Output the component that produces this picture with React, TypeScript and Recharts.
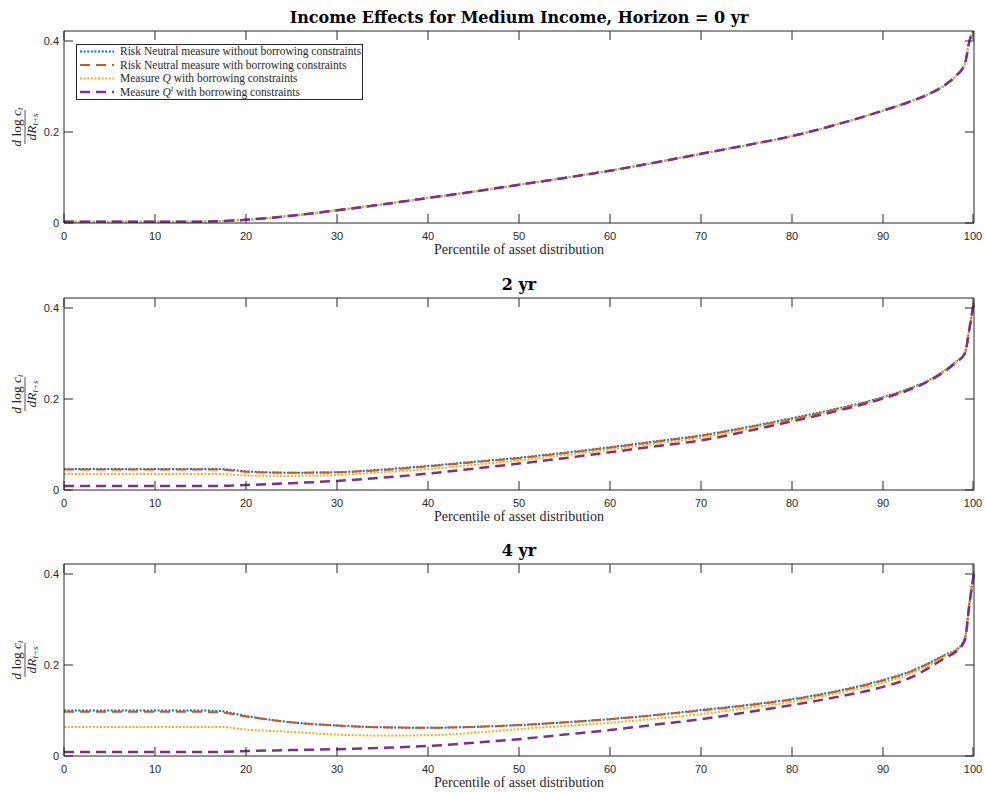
import React from "react";
import { LineChart, Line, XAxis, YAxis, Legend } from "recharts";

// percentile grid shared by every panel
const pct = [0, 5, 10, 15, 17, 20, 25, 30, 35, 40, 45, 50, 55, 60, 65, 70, 75, 80, 85, 90, 93, 95, 97, 98, 99, 99.5, 100];

// horizon 0 yr: the four measures coincide
const h0 = [0.003, 0.003, 0.003, 0.003, 0.004, 0.007, 0.016, 0.028, 0.041, 0.055, 0.069, 0.084, 0.099, 0.115, 0.133, 0.152, 0.171, 0.191, 0.217, 0.247, 0.267, 0.283, 0.306, 0.323, 0.35, 0.4, 0.425];

// horizon 2 yr
const h2Free = [0.046, 0.046, 0.046, 0.046, 0.046, 0.041, 0.038, 0.039, 0.045, 0.053, 0.062, 0.071, 0.082, 0.094, 0.107, 0.12, 0.138, 0.158, 0.179, 0.204, 0.224, 0.241, 0.266, 0.282, 0.302, 0.355, 0.415];
const h2Constr = [0.045, 0.045, 0.045, 0.045, 0.045, 0.04, 0.038, 0.039, 0.044, 0.052, 0.061, 0.07, 0.081, 0.093, 0.106, 0.119, 0.137, 0.156, 0.178, 0.203, 0.223, 0.24, 0.265, 0.281, 0.301, 0.355, 0.415];
const h2Q = [0.035, 0.035, 0.035, 0.035, 0.035, 0.032, 0.031, 0.033, 0.039, 0.046, 0.055, 0.065, 0.077, 0.089, 0.102, 0.115, 0.134, 0.154, 0.176, 0.202, 0.222, 0.24, 0.265, 0.281, 0.301, 0.355, 0.415];
const h2QI = [0.009, 0.009, 0.009, 0.009, 0.009, 0.011, 0.015, 0.02, 0.027, 0.036, 0.047, 0.058, 0.07, 0.083, 0.096, 0.109, 0.129, 0.151, 0.174, 0.201, 0.221, 0.239, 0.264, 0.28, 0.3, 0.355, 0.415];

// horizon 4 yr
const h4Free = [0.1, 0.1, 0.1, 0.1, 0.099, 0.088, 0.074, 0.067, 0.063, 0.062, 0.064, 0.068, 0.074, 0.081, 0.09, 0.101, 0.112, 0.125, 0.143, 0.167, 0.186, 0.204, 0.224, 0.233, 0.259, 0.336, 0.403];
const h4Constr = [0.097, 0.097, 0.097, 0.097, 0.096, 0.087, 0.074, 0.067, 0.063, 0.062, 0.064, 0.068, 0.074, 0.081, 0.09, 0.1, 0.111, 0.124, 0.142, 0.166, 0.185, 0.203, 0.223, 0.232, 0.258, 0.336, 0.403];
const h4Q = [0.064, 0.064, 0.064, 0.064, 0.064, 0.058, 0.053, 0.047, 0.045, 0.0455, 0.051, 0.059, 0.066, 0.073, 0.082, 0.092, 0.105, 0.119, 0.138, 0.161, 0.181, 0.199, 0.221, 0.231, 0.257, 0.335, 0.403];
const h4QI = [0.009, 0.009, 0.009, 0.009, 0.009, 0.011, 0.013, 0.015, 0.018, 0.022, 0.029, 0.037, 0.047, 0.057, 0.069, 0.081, 0.096, 0.112, 0.13, 0.152, 0.172, 0.193, 0.218, 0.229, 0.255, 0.334, 0.403];

const xTicks = [0, 10, 20, 30, 40, 50, 60, 70, 80, 90, 100];
const yTicks = [0, 0.2, 0.4];
const Y_MAX = 0.422;

const AXIS = "#262626";
const BLUE = "#0072BD";
const ORANGE = "#D95319";
const YELLOW = "#EDB120";
const PURPLE = "#7E2F8E";
const SERIF = "'Liberation Serif', 'Times New Roman', serif";
const SANS = "'Liberation Sans', Arial, sans-serif";
const DOT = "2 1.6";
const DASH = "10 6";

function buildRows(a: number[], b: number[], c: number[], d: number[]) {
    return pct.map((x, i) => ({ x, free: a[i], constr: b[i], q: c[i], qI: d[i] }));
}

const panels = [
    { title: "Income Effects for Medium Income, Horizon = 0 yr", rows: buildRows(h0, h0, h0, h0), legend: true },
    { title: "2 yr", rows: buildRows(h2Free, h2Constr, h2Q, h2QI), legend: false },
    { title: "4 yr", rows: buildRows(h4Free, h4Constr, h4Q, h4QI), legend: false },
];

const BottomTick = (props: any) => {
    const { x, y, payload } = props;
    return (
        <g>
            <line x1={x} x2={x} y1={y} y2={y - 9} stroke={AXIS} />
            <text x={x} y={y + 16.5} textAnchor="middle" fontFamily={SANS} fontSize={11} fill={AXIS}>
                {payload.value}
            </text>
        </g>
    );
};

const TopTick = (props: any) => {
    const { x, y } = props;
    return <line x1={x} x2={x} y1={y} y2={y + 9} stroke={AXIS} />;
};

const LeftTick = (props: any) => {
    const { x, y, payload } = props;
    return (
        <g>
            <line x1={x} x2={x + 9} y1={y} y2={y} stroke={AXIS} />
            <text x={x - 5} y={y + 4} textAnchor="end" fontFamily={SANS} fontSize={11} fill={AXIS}>
                {payload.value}
            </text>
        </g>
    );
};

const RightTick = (props: any) => {
    const { x, y } = props;
    return <line x1={x} x2={x - 9} y1={y} y2={y} stroke={AXIS} />;
};

const YFraction = (props: any) => {
    const vb = props.viewBox;
    const cy = vb.y + vb.height / 2;
    return (
        <g transform={`translate(25,${cy}) rotate(-90)`} fontFamily={SERIF} fill={AXIS}>
            <text x={0} y={-4} textAnchor="middle" fontSize={13.5}>
                <tspan fontStyle="italic">d</tspan> log <tspan fontStyle="italic">c</tspan>
                <tspan fontStyle="italic" fontSize={9} dy={2}>t</tspan>
            </text>
            <line x1={-17} x2={17} y1={0} y2={0} stroke={AXIS} strokeWidth={0.8} />
            <text x={0} y={11} textAnchor="middle" fontSize={13.5}>
                <tspan fontStyle="italic">dR</tspan>
                <tspan fontStyle="italic" fontSize={9} dy={2}>t+s</tspan>
            </text>
        </g>
    );
};

const XLabel = (props: any) => {
    const vb = props.viewBox;
    return (
        <text x={vb.x + vb.width / 2} y={vb.y + 31} textAnchor="middle" fontFamily={SERIF} fontSize={14} fill={AXIS}>
            Percentile of asset distribution
        </text>
    );
};

const makeTitle = (title: string) => (props: any) => {
    const vb = props.viewBox;
    return (
        <text x={vb.x + vb.width / 2} y={vb.y + vb.height - 8} textAnchor="middle" fontFamily="'DejaVu Serif', serif" fontWeight="bold" fontSize={16} fill="#000">
            {title}
        </text>
    );
};

const legendItems = [
    { color: BLUE, dash: DOT, width: 2, label: <>Risk Neutral measure without borrowing constraints</> },
    { color: ORANGE, dash: DASH, width: 2, label: <>Risk Neutral measure with borrowing constraints</> },
    { color: YELLOW, dash: DOT, width: 2, label: <>Measure <tspan fontStyle="italic">Q</tspan> with borrowing constraints</> },
    {
        color: PURPLE, dash: DASH, width: 2.5,
        label: <>Measure <tspan fontStyle="italic">Q</tspan><tspan fontStyle="italic" fontSize={7} dy={-5}>I</tspan><tspan dy={5}> with borrowing constraints</tspan></>,
    },
];

const LegendBox = () => (
    <svg width={287} height={56} style={{ display: "block" }}>
        <rect x={0.5} y={0.5} width={286} height={55} fill="#fff" stroke={AXIS} />
        {legendItems.map((it, i) => {
            const cy = 7.5 + i * 13.5;
            return (
                <g key={i}>
                    <line x1={4} x2={38} y1={cy} y2={cy} stroke={it.color} strokeWidth={it.width} strokeDasharray={it.dash} />
                    <text x={44} y={cy + 3.8} fontFamily={SERIF} fontSize={11.5} fill={AXIS}>
                        {it.label}
                    </text>
                </g>
            );
        })}
    </svg>
);

function Panel({ title, rows, legend }: { title: string; rows: any[]; legend: boolean }) {
    return (
        <LineChart width={985} height={266} data={rows} margin={{ top: 30, right: 10, bottom: 0, left: 0 }}>
            <XAxis
                dataKey="x"
                type="number"
                domain={[0, 100]}
                ticks={xTicks}
                height={43}
                tickSize={0}
                tickMargin={0}
                tick={BottomTick}
                axisLine={{ stroke: AXIS }}
                label={{ content: XLabel }}
            />
            <XAxis
                xAxisId="top"
                dataKey="x"
                orientation="top"
                type="number"
                domain={[0, 100]}
                ticks={xTicks}
                height={1}
                tickSize={0}
                tickMargin={0}
                tick={TopTick}
                axisLine={{ stroke: AXIS }}
                label={{ content: makeTitle(title) }}
            />
            <YAxis
                type="number"
                domain={[0, Y_MAX]}
                allowDataOverflow
                ticks={yTicks}
                width={64}
                tickSize={0}
                tickMargin={0}
                tick={LeftTick}
                axisLine={{ stroke: AXIS }}
                label={{ content: YFraction }}
            />
            <YAxis
                yAxisId="right"
                orientation="right"
                type="number"
                domain={[0, Y_MAX]}
                allowDataOverflow
                ticks={yTicks}
                width={1}
                tickSize={0}
                tickMargin={0}
                tick={RightTick}
                axisLine={{ stroke: AXIS }}
            />
            {/* invisible series so the top and right frame axes get drawn */}
            <Line xAxisId="top" yAxisId="right" dataKey="free" stroke="none" dot={false} activeDot={false} legendType="none" isAnimationActive={false} />
            <Line dataKey="free" type="monotone" stroke={BLUE} strokeWidth={2} strokeDasharray={DOT} dot={false} activeDot={false} isAnimationActive={false} />
            <Line dataKey="constr" type="monotone" stroke={ORANGE} strokeWidth={2} strokeDasharray={DASH} dot={false} activeDot={false} isAnimationActive={false} />
            <Line dataKey="q" type="monotone" stroke={YELLOW} strokeWidth={2} strokeDasharray={DOT} dot={false} activeDot={false} isAnimationActive={false} />
            <Line dataKey="qI" type="monotone" stroke={PURPLE} strokeWidth={2.5} strokeDasharray={DASH} dot={false} activeDot={false} isAnimationActive={false} />
            {legend && (
                <Legend
                    layout="vertical"
                    align="center"
                    verticalAlign="middle"
                    content={LegendBox}
                    wrapperStyle={{ left: 76, top: 44, width: 287, height: 56 }}
                />
            )}
        </LineChart>
    );
}

export default function App() {
    return (
        <div style={{ position: "absolute", left: 0, top: 0, width: 985, height: 793, background: "#fff" }}>
            {panels.map((p, i) => (
                <div key={i} style={{ position: "absolute", left: 0, top: [0, 267, 533][i] }}>
                    <Panel title={p.title} rows={p.rows} legend={p.legend} />
                </div>
            ))}
        </div>
    );
}
